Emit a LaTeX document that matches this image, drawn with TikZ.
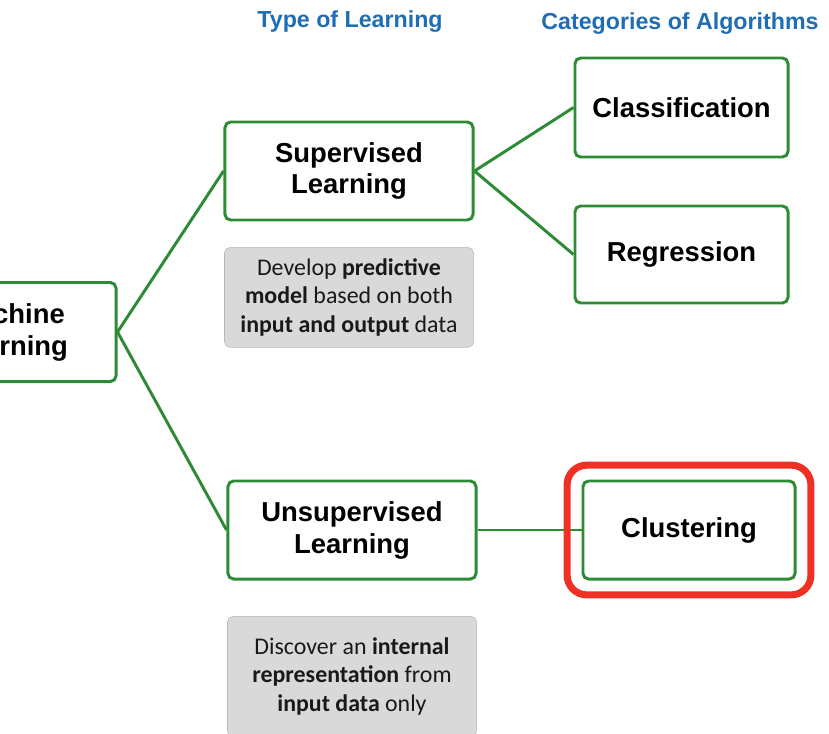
\documentclass[tikz,border=0pt]{standalone}
\usepackage{fontspec}
\setmainfont{Liberation Sans}
\newfontfamily\notefont{Carlito}
\usetikzlibrary{positioning,fit}
\definecolor{boxgreen}{HTML}{2E8B35}
\definecolor{headblue}{HTML}{1F6DB4}
\definecolor{notegray}{HTML}{D9D9D9}
\definecolor{markred}{HTML}{EE3124}

\begin{document}
\begin{tikzpicture}[x=0.025cm,y=-0.025cm,
		Box/.style={rectangle,draw=boxgreen,line width=2.1pt,rounded corners=4pt,align=center,fill=white,
			font=\fontsize{19.5}{22.7}\selectfont\bfseries,minimum width=6.2cm,minimum height=2.45cm},
		Note/.style={rectangle,fill=notegray,draw=notegray!85!black,line width=0.4pt,rounded corners=4pt,align=center,
			text=black!90,font=\notefont\fontsize{17}{20.2}\selectfont,minimum width=6.225cm,minimum height=2.5cm},
		Head/.style={text=headblue,font=\fontsize{16.5}{20}\selectfont\bfseries},
		Link/.style={boxgreen,line width=2.1pt},
		Mark/.style={rectangle,draw=markred,line width=5pt,rounded corners=14pt,inner sep=0.36cm}]
		\useasboundingbox (0,0) rectangle (829,733);
		\clip (0,0) rectangle (829,733);
		% headings
		\node[Head] (TypeHead) at (350,22) {Type of Learning};
		\node[Head] (CatHead) at (680,24) {Categories of Algorithms};
		% nodes
		\node[Box,minimum width=5.3cm,minimum height=2.475cm] (ML) at (10,332) {Machine\\Learning};
		\node[Box] (Sup) at (349,171) {Supervised\\Learning};
		\node[Note] (SupNote) [below=0.64cm of Sup] {Develop \textbf{predictive}\\\textbf{model} based on both\\\textbf{input and output} data};
		\node[Box] (Unsup) at (352,530) {Unsupervised\\Learning};
		\node[Note,minimum height=3cm] (UnsupNote) [below=0.89cm of Unsup] {Discover an \textbf{internal}\\\textbf{representation} from\\\textbf{input data} only};
		\node[Box,minimum width=5.325cm,minimum height=2.475cm] (Class) at (681.5,107.5) {Classification};
		\node[Box,minimum width=5.325cm,minimum height=2.425cm] (Regr) [below=1.15cm of Class] {Regression};
		\node[Box,minimum width=5.3cm] (Clust) at (689,530) {Clustering};
		% connections
		\draw[Link] (ML.east) -- (Sup.west);
		\draw[Link] (ML.east) -- (Unsup.west);
		\draw[Link] (Sup.east) -- (Class.west);
		\draw[Link] (Sup.east) -- (Regr.west);
		\draw[Link] (Unsup.east) -- (Clust.west);
		% highlight
		\node[Mark,fit=(Clust)] (ClustMark) {};
	\end{tikzpicture}
\end{document}
